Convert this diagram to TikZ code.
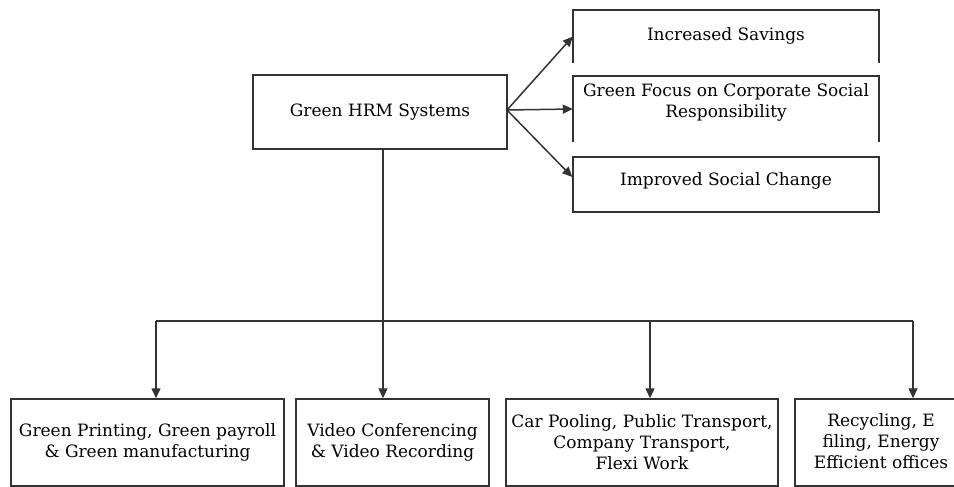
\documentclass[tikz,border=0pt]{standalone}
\usepackage{fontspec}
\setmainfont{DejaVu Serif}
\usetikzlibrary{arrows.meta}
\definecolor{linegray}{HTML}{333333}
\tikzset{
  box/.style={draw=linegray, line width=1.5pt, inner sep=0pt, fill=white},
  frame/.style={inner sep=0pt},
  label text/.style={align=center, inner sep=0pt, font=\fontsize{17}{21}\selectfont},
  link/.style={draw=linegray, line width=1.5pt, -{Triangle[length=10pt,width=9pt]}},
  bus/.style={draw=linegray, line width=1.5pt}
}
\begin{document}
\begin{tikzpicture}[x=1pt, y=-1pt]
\useasboundingbox (0,0) rectangle (954,487);

% central box
\node[box, minimum width=254pt, minimum height=74pt, label text] (main) at (380,112) {Green HRM Systems};

% outcome boxes on the right (first two are open at the bottom)
\node[frame, minimum width=306pt, minimum height=53pt] (s1) at (726,36.5) {};
\draw[linegray, line width=1.5pt] (s1.south west) -- (s1.north west) -- (s1.north east) -- (s1.south east);
\node[label text] (s1t) at (726,36) {Increased Savings};

\node[frame, minimum width=306pt, minimum height=66pt] (s2) at (726,109) {};
\draw[linegray, line width=1.5pt] (s2.south west) -- (s2.north west) -- (s2.north east) -- (s2.south east);
\node[label text] (s2t) at (726,102.5) {Green Focus on Corporate Social\\Responsibility};

\node[box, minimum width=306pt, minimum height=55pt] (s3) at (726,184.5) {};
\node[label text] (s3t) at (726,181) {Improved Social Change};

% bottom row of practice boxes
\node[box, minimum width=273pt, minimum height=87pt, label text] (pa) at (147.5,442.5) {Green Printing, Green payroll\\\& Green manufacturing};
\node[box, minimum width=193pt, minimum height=87pt, label text] (pb) at (392.5,442.5) {Video Conferencing\\\& Video Recording};
\node[box, minimum width=272pt, minimum height=87pt, label text] (pc) at (642,442.5) {Car Pooling, Public Transport,\\Company Transport,\\Flexi Work};
\node[box, minimum width=160pt, minimum height=87pt] (pd) at (875,442.5) {};
\node[label text] (pdt) at (881,441.5) {Recycling, E\\filing, Energy\\Efficient offices};

% arrows to the outcomes
\coordinate (fan) at (507,110);
\draw[link] (fan) -- (s1.west);
\draw[link] (fan) -- (s2.west);
\draw[link] (fan) -- ([yshift=7.5pt]s3.west);

% trunk and distribution bus
\coordinate (j) at (383,321);
\coordinate (ba) at (156,321);
\coordinate (bc) at (650,321);
\coordinate (bd) at (913,321);
\draw[bus] (main.south -| j) -- (j);
\draw[bus] (ba) -- (bd);
\draw[link] (ba) -- (ba |- pa.north);
\draw[link] (j) -- (j |- pb.north);
\draw[link] (bc) -- (bc |- pc.north);
\draw[link] (bd) -- (bd |- pd.north);
\end{tikzpicture}
\end{document}
